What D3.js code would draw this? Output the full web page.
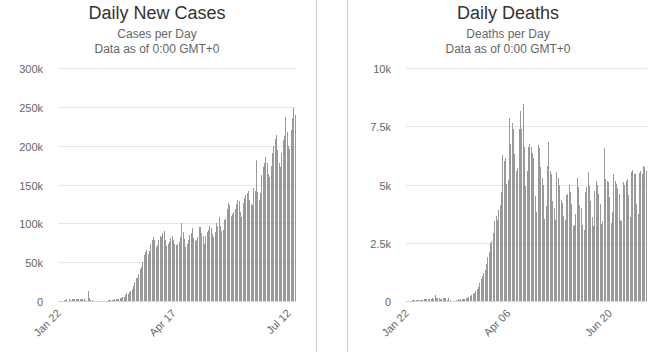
<!DOCTYPE html>
<html>
<head>
<meta charset="utf-8">
<script src="https://cdn.jsdelivr.net/npm/d3@7"></script>
<style>
  body { margin: 0; background: #fff; }
  svg { display: block; font-family: "Liberation Sans", Arial, sans-serif; }
</style>
</head>
<body>
<svg id="chart" width="664" height="352"></svg>
<script>
// one bar per day, Jan 22 .. Jul 17 2020
const days = d3.timeDay.range(new Date(2020, 0, 22), new Date(2020, 6, 18));

const newCases = [
  0, 100, 290, 490, 680, 810, 2650, 590, 2070, 1690,
  2110, 3200, 2600, 3000, 2900, 2500, 2800, 2200, 2400, 2100,
  1800, 400, 13500, 4500, 1800, 1900, 600, 500, 300, 350,
  400, 450, 300, 350, 400, 500, 600, 800, 1200, 1500,
  1400, 1800, 2000, 2200, 2800, 3100, 3500, 4000, 5600, 5000,
  7500, 10000, 9500, 11000, 12500, 16000, 19000, 25000, 29000, 30000,
  35000, 41000, 44000, 50000, 59000, 63000, 66000, 61000, 65000, 73000,
  78000, 82000, 79000, 70000, 72000, 78000, 84000, 83000, 87000, 90000,
  79000, 71000, 74000, 76000, 81000, 84000, 79000, 74000, 72000, 74000,
  76000, 83000, 100000, 89000, 80000, 69000, 74000, 78000, 85000, 88000,
  94000, 81000, 77000, 79000, 82000, 95000, 95000, 88000, 84000, 73000,
  84000, 89000, 92000, 97000, 94000, 86000, 82000, 89000, 101000, 96000,
  108000, 97000, 90000, 92000, 104000, 106000, 118000, 126000, 124000, 109000,
  112000, 115000, 119000, 125000, 130000, 129000, 114000, 108000, 126000, 133000,
  136000, 139000, 142000, 130000, 125000, 124000, 145000, 141000, 181000, 140000,
  130000, 139000, 162000, 173000, 178000, 185000, 178000, 163000, 160000, 174000,
  190000, 199000, 208000, 214000, 194000, 178000, 172000, 190000, 207000, 213000,
  237000, 218000, 199000, 196000, 220000, 236000, 248000, 240000
];

const newDeaths = [
  0, 8, 16, 15, 24, 26, 26, 38, 43, 46,
  45, 57, 64, 66, 73, 73, 86, 89, 97, 108,
  97, 254, 121, 143, 142, 106, 98, 139, 115, 125,
  40, 110, 30, 10, 10, 10, 10, 60, 70, 60,
  75, 70, 95, 100, 110, 150, 190, 200, 240, 290,
  350, 440, 530, 620, 760, 930, 1070, 1200, 1330, 1580,
  1880, 2100, 2480, 2560, 2900, 3420, 3650, 3480, 3900, 4130,
  4690, 6280, 5990, 6120, 5020, 5200, 7850, 6750, 7640, 7380,
  6320, 5600, 5690, 7380, 8170, 7400, 8470, 6630, 4940, 5560,
  6620, 6730, 6600, 6350, 6120, 4490, 3830, 6690, 6560, 5770,
  5300, 5000, 3510, 4080, 5800, 6830, 5590, 5470, 4280, 4000,
  3490, 5530, 5260, 4990, 4350, 4200, 3640, 3460, 4570, 4610,
  4960, 4670, 4180, 3200, 3280, 3740, 5290, 4900, 4140, 4000,
  3280, 3060, 4670, 4900, 5550, 4930, 4280, 3590, 3200, 4740,
  5170, 5000, 4610, 4180, 3320, 3420, 6580, 5220, 5170, 5120,
  4470, 3350, 3840, 5430, 5170, 5040, 4860, 4610, 3490, 3450,
  5100, 4970, 5140, 5220, 4530, 3610, 5550, 5620, 5430, 5430,
  4180, 3740, 5500, 5580, 5470, 5790, 5760, 5580
];

const casesTicks = [0, 50000, 100000, 150000, 200000, 250000, 300000];
const deathsTicks = [0, 2500, 5000, 7500, 10000];
const casesDateLabels = ["Jan 22", "Apr 17", "Jul 12"];
const deathsDateLabels = ["Jan 22", "Apr 06", "Jun 20"];

const svg = d3.select("#chart");
const fmtDay = d3.timeFormat("%b %d");
const fmtValue = (v) => v === 0 ? "0" : `${v / 1000}k`;

// panel borders
svg.selectAll("line.border")
  .data([316.5, 347.5])
  .enter()
  .append("line")
    .attr("x1", (d) => d).attr("x2", (d) => d)
    .attr("y1", 0).attr("y2", 352)
    .attr("stroke", "#cccccc");

function drawPanel(opts) {
  const x = d3.scaleBand()
    .domain(days)
    .range([opts.left, opts.right]);

  const y = d3.scaleLinear()
    .domain([0, opts.ticks[opts.ticks.length - 1]])
    .range([301, 68]);

  const g = svg.append("g");

  // titles
  g.append("text")
    .attr("x", opts.center).attr("y", 19)
    .attr("text-anchor", "middle")
    .attr("fill", "#333333")
    .style("font-size", "18px")
    .text(opts.title);

  g.append("text")
    .attr("x", opts.center).attr("y", 38)
    .attr("text-anchor", "middle")
    .attr("fill", "#666666")
    .style("font-size", "12px")
    .text(opts.subtitle);

  g.append("text")
    .attr("x", opts.center).attr("y", 53)
    .attr("text-anchor", "middle")
    .attr("fill", "#666666")
    .style("font-size", "12px")
    .text("Data as of 0:00 GMT+0");

  // grid
  g.selectAll("line.grid")
    .data(opts.ticks.slice(1))
    .enter()
    .append("line")
      .attr("x1", opts.left).attr("x2", opts.right)
      .attr("y1", (d) => Math.round(y(d)) + 0.5)
      .attr("y2", (d) => Math.round(y(d)) + 0.5)
      .attr("stroke", "#e6e6e6");

  // y labels
  g.selectAll("text.ylab")
    .data(opts.ticks)
    .enter()
    .append("text")
      .attr("x", opts.left - 15)
      .attr("y", (d) => y(d) + 5)
      .attr("text-anchor", "end")
      .attr("fill", "#666666")
      .style("font-size", "11px")
      .text(fmtValue);

  // bars
  const barW = Math.max(1, Math.round(x.bandwidth() * 0.75));
  g.selectAll("rect")
    .data(opts.values)
    .enter()
    .append("rect")
      .attr("x", (d, i) => Math.round(x(days[i]) + (x.bandwidth() - barW) / 2))
      .attr("width", barW)
      .attr("y", (d) => Math.round(y(d)))
      .attr("height", (d) => Math.round(y(0)) - Math.round(y(d)))
      .attr("fill", "#999999")
      .attr("shape-rendering", "crispEdges");

  // x axis line
  g.append("line")
    .attr("x1", opts.left).attr("x2", opts.right)
    .attr("y1", 301.5).attr("y2", 301.5)
    .attr("stroke", "#ccd6eb");

  // date labels
  const labelDays = opts.dateLabels.map((s) => days.find((d) => fmtDay(d) === s));
  g.selectAll("text.xlab")
    .data(labelDays)
    .enter()
    .append("text")
      .attr("transform", (d) => `translate(${x(d) + x.bandwidth() / 2 + 3},${314}) rotate(-45)`)
      .attr("text-anchor", "end")
      .attr("fill", "#666666")
      .style("font-size", "11px")
      .text(fmtDay);
}

drawPanel({
  left: 58, right: 296, center: 157,
  title: "Daily New Cases", subtitle: "Cases per Day",
  values: newCases, ticks: casesTicks, dateLabels: casesDateLabels
});

drawPanel({
  left: 406, right: 647, center: 508,
  title: "Daily Deaths", subtitle: "Deaths per Day",
  values: newDeaths, ticks: deathsTicks, dateLabels: deathsDateLabels
});
</script>
</body>
</html>
